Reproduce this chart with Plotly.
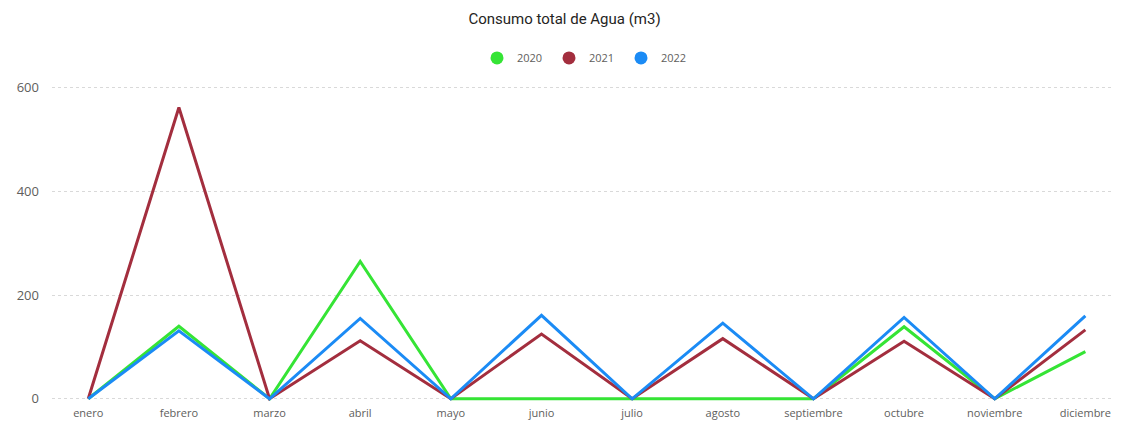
import plotly.graph_objects as go

months = ['enero', 'febrero', 'marzo', 'abril', 'mayo', 'junio', 'julio',
          'agosto', 'septiembre', 'octubre', 'noviembre', 'diciembre']

agua_2020 = [0, 140, 0, 265, 0, 0, 0, 0, 0, 139, 0, 91]
agua_2021 = [0, 562, 0, 112, 0, 125, 0, 116, 0, 111, 0, 133]
agua_2022 = [0, 131, 0, 155, 0, 161, 0, 146, 0, 157, 0, 160]

y_ticks = [0, 200, 400, 600]

series = [
    ('2020', agua_2020, '#35E435'),
    ('2021', agua_2021, '#A32E3E'),
    ('2022', agua_2022, '#1B8BF5'),
]

fig = go.Figure()

# draw 2020 first, then 2021, 2022 on top (as in the reference)
for name, values, color in series:
    fig.add_trace(go.Scatter(
        x=list(range(len(months))),
        y=values,
        mode='lines',
        name=name,
        line=dict(color=color, width=3),
        showlegend=False,
    ))

# legend entries shown as circles, like the Power BI legend
for name, values, color in series:
    fig.add_trace(go.Scatter(
        x=[None], y=[None],
        mode='markers',
        name=name,
        marker=dict(color=color, size=13, symbol='circle'),
    ))

# the page body adds an 8px offset, so the figure is 8px smaller
fig.update_layout(
    title=dict(
        text='Consumo total de Agua (m3)',
        x=0.5, xanchor='center',
        y=0.974, yanchor='middle',
        font=dict(family='Roboto', size=15, color='#252423'),
    ),
    legend=dict(
        orientation='h',
        x=0.5, xanchor='center',
        y=1.068, yanchor='middle',
        font=dict(family='Open Sans', size=11, color='#605E5C'),
        itemwidth=30,
        entrywidth=27,
        entrywidthmode='pixels',
        tracegroupgap=0,
    ),
    width=1113,
    height=417,
    margin=dict(l=44, r=3, t=72, b=20),
    plot_bgcolor='white',
    paper_bgcolor='white',
    xaxis=dict(
        tickmode='array',
        tickvals=list(range(len(months))),
        ticktext=months,
        range=[-0.4, 11.36],
        showgrid=False,
        zeroline=False,
        showline=False,
        tickfont=dict(family='Open Sans', size=11, color='#605E5C'),
        ticks='',
        ticklabelstandoff=0,
    ),
    yaxis=dict(
        range=[-12, 615],
        tickvals=y_ticks,
        showgrid=True,
        gridcolor='#D9D9D9',
        griddash='dot',
        gridwidth=1,
        zeroline=False,
        showline=False,
        tickfont=dict(family='Open Sans', size=13, color='#605E5C'),
        ticks='',
        ticklabelstandoff=12,
    ),
)

fig.write_html('out.html')
